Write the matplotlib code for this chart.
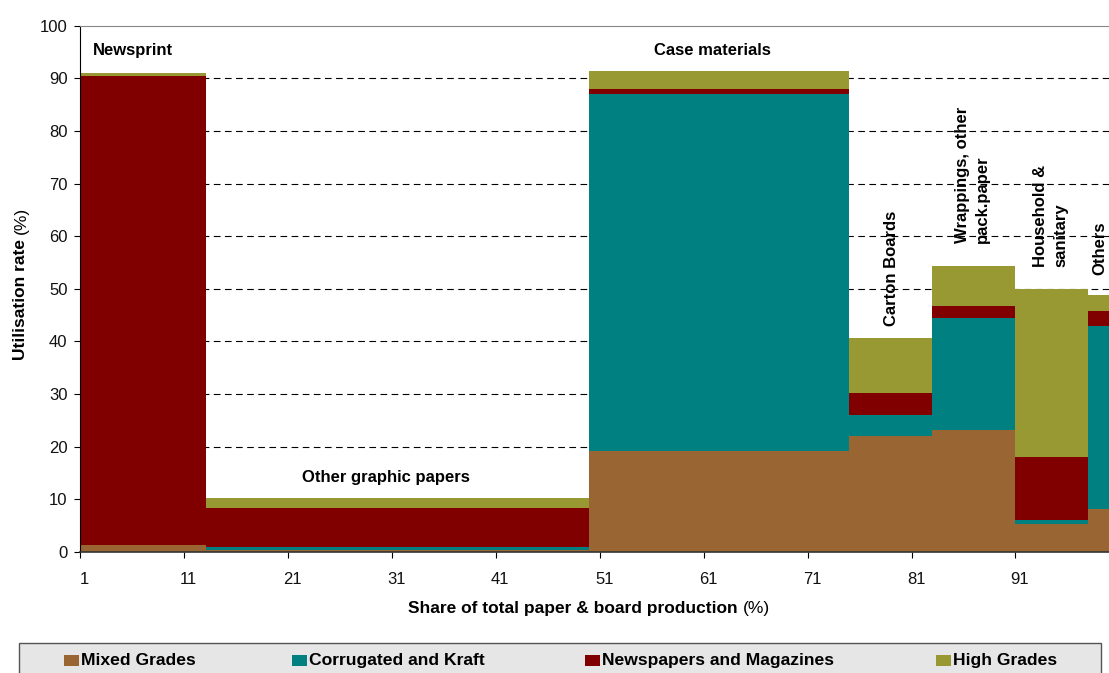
import numpy as np
import matplotlib.pyplot as plt
import matplotlib.transforms as mtransforms
from matplotlib.patches import Rectangle

plt.rcParams['font.family'] = ['Liberation Sans', 'DejaVu Sans']

# paper & board grades, their share of production and recovered-fibre utilisation
grades = ['Newsprint', 'Other graphic papers', 'Case materials', 'Carton Boards',
          'Wrappings, other\npack.paper', 'Household &\nsanitary', 'Others']
shares = [12.1, 36.9, 25, 8, 8, 7, 2]

mixed_grades = [1.3, 0.3, 19.2, 22.0, 23.2, 5.3, 8.1]
corrugated_kraft = [0.0, 0.5, 67.8, 4.0, 21.3, 0.7, 34.8]
news_mags = [89.2, 7.6, 1.0, 4.2, 2.2, 12.0, 2.9]
high_grades = [0.5, 1.8, 3.4, 10.4, 7.6, 31.9, 3.0]

series_names = ['Mixed Grades', 'Corrugated and Kraft', 'Newspapers and Magazines', 'High Grades']
colors = ['#996633', '#008080', '#800000', '#999933']

xticks = [1, 11, 21, 31, 41, 51, 61, 71, 81, 91]

W, H = 1109, 673


def main():
    fig = plt.figure(figsize=(W / 100, H / 100), dpi=100)
    ax = fig.add_axes([80 / W, 1 - 551.7 / H, 1 - 80 / W, (551.7 - 25.7) / H])

    widths = np.array(shares)
    lefts = 1 + np.concatenate([[0], np.cumsum(widths)[:-1]])
    bottom = np.zeros(len(shares))
    for vals, col in zip([mixed_grades, corrugated_kraft, news_mags, high_grades], colors):
        ax.bar(lefts, vals, width=widths, bottom=bottom, align='edge', color=col,
               linewidth=0, zorder=2)
        bottom += np.array(vals)

    ax.set_xlim(1, 100)
    ax.set_ylim(0, 100)
    ax.set_yticks(range(0, 101, 10))
    ax.set_xticks(xticks)
    ax.tick_params(labelsize=12, length=4, colors='black', labelcolor='#111111')
    ax.tick_params(axis='x', pad=10.5)
    ax.tick_params(axis='y', pad=5)
    # x labels sit a little right of their ticks
    shift = mtransforms.ScaledTranslation(0.045, 0, fig.dpi_scale_trans)
    for t in ax.get_xticklabels():
        t.set_transform(t.get_transform() + shift)

    for v in range(10, 100, 10):
        ax.axhline(v, color='black', lw=0.8, ls=(0, (6, 4)), zorder=1)

    ax.spines['top'].set_color('#888888')
    ax.spines['right'].set_visible(False)
    ax.spines['left'].set_color('black')
    ax.spines['bottom'].set_color('#333333')
    ax.spines['bottom'].set_linewidth(1.2)
    ax.spines['bottom'].set_zorder(3)

    # category names
    kw = dict(fontsize=12, fontweight='bold', zorder=4)
    ax.text(2.25, 95.2, grades[0], ha='left', va='center', **kw)
    ax.text(30.4, 14.2, grades[1], ha='center', va='center', **kw)
    ax.text(61.8, 95.2, grades[2], ha='center', va='center', **kw)
    ax.text(79.1, 53.8, grades[3], ha='center', va='center', rotation=90, **kw)
    ax.text(86.9, 58.7, grades[4], ha='center', va='bottom', rotation=90,
            multialignment='left', linespacing=1.4, **kw)
    ax.text(94.4, 54.1, grades[5], ha='center', va='bottom', rotation=90,
            multialignment='left', linespacing=1.4, **kw)
    ax.text(99.1, 52.6, grades[6], ha='center', va='bottom', rotation=90, **kw)

    # axis titles: bold name, plain unit
    renderer = fig.canvas.get_renderer()
    xl = fig.text(408 / W, 1 - 608 / H, 'Share of total paper & board production',
                  fontsize=12.5, fontweight='bold', ha='left', va='center')
    bb = xl.get_window_extent(renderer)
    fig.text((bb.x1 + 5) / W, 1 - 608 / H, '(%)', fontsize=12.5, ha='left', va='center')

    yl = fig.text(21 / W, 1 - 360 / H, 'Utilisation rate', fontsize=12.5,
                  fontweight='bold', rotation=90, ha='center', va='bottom')
    bb = yl.get_window_extent(renderer)
    fig.text(21 / W, (bb.y1 + 5) / H, '(%)', fontsize=12.5, rotation=90,
             ha='center', va='bottom')

    # legend strip
    fig.patches.append(Rectangle((19 / W, -0.01), (1101 - 19) / W, (673 - 642.7) / H + 0.01,
                                 transform=fig.transFigure, facecolor='#e6e6e6',
                                 edgecolor='#555555', lw=1.0))
    legend_x = [64, 292, 585, 936]
    for x, name, col in zip(legend_x, series_names, colors):
        fig.patches.append(Rectangle((x / W, (673 - 666) / H), 15 / W, 11 / H,
                                     transform=fig.transFigure, facecolor=col,
                                     edgecolor='none'))
        fig.text((x + 17) / W, 1 - 660.5 / H, name, fontsize=12.6, fontweight='bold',
                 ha='left', va='center')

    fig.savefig('out.png', dpi=100)


if __name__ == "__main__":
    main()
